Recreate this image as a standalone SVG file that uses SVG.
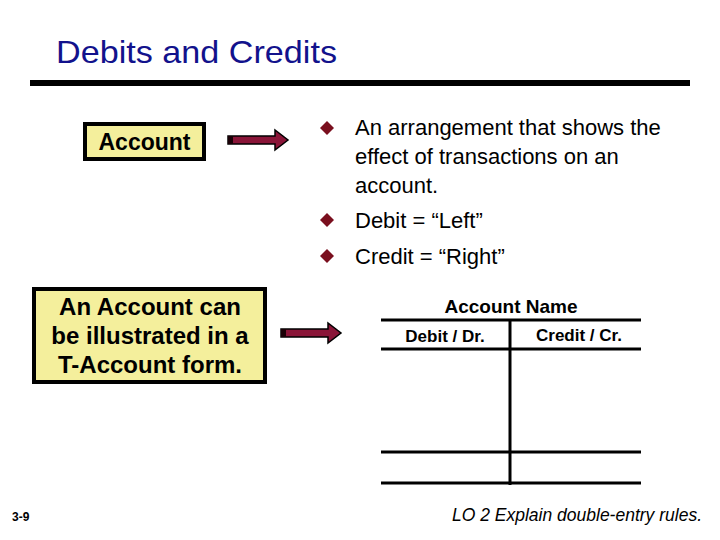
<svg xmlns="http://www.w3.org/2000/svg" width="720" height="540" viewBox="0 0 720 540">
<defs>
<style>
.t{font-family:"Liberation Sans",Arial,sans-serif}
.b{font-weight:bold}
.body{font-size:22px;fill:#000}
.box{fill:#f4ef9c;stroke:#000;stroke-width:4}
.arrow{fill:#8a1538;stroke:#000;stroke-width:1.5;stroke-linejoin:miter}
.tl{stroke:#000;stroke-width:3}
.dia{fill:#7a0f1e}
</style>
<symbol id="arr" viewBox="0 0 62 22" overflow="visible">
<polygon class="arrow" points="1,7 48,7 48,1 61,11 48,21 48,15 1,15"/>
<rect x="1" y="7" width="5" height="8" fill="#1a0006"/>
</symbol>
<polygon id="dm" class="dia" points="0,-7 7,0 0,7 -7,0"/>
</defs>
<rect width="720" height="540" fill="#fff"/>
<g id="title">
<text class="t" x="56" y="63" font-size="32" fill="#12128c" textLength="281" lengthAdjust="spacingAndGlyphs">Debits and Credits</text>
<rect x="30" y="80" width="660" height="6" fill="#000"/>
</g>
<g id="account">
<rect class="box" x="85" y="124" width="119" height="35"/>
<text class="t b" x="144.5" y="150" font-size="23" text-anchor="middle">Account</text>
</g>
<g id="tform-note">
<rect class="box" x="34" y="289" width="231" height="93"/>
<text class="t b" font-size="24" text-anchor="middle"><tspan x="150" y="315">An Account can</tspan><tspan x="150" y="344">be illustrated in a</tspan><tspan x="150" y="373">T-Account form.</tspan></text>
</g>
<g id="bullets">
<use href="#dm" x="327" y="128"/>
<use href="#dm" x="327" y="220"/>
<use href="#dm" x="327" y="256"/>
<text class="t body"><tspan x="355" y="135">An arrangement that shows the</tspan><tspan x="355" y="164">effect of transactions on an</tspan><tspan x="355" y="193">account.</tspan><tspan x="355" y="228">Debit = “Left”</tspan><tspan x="355" y="264">Credit = “Right”</tspan></text>
</g>
<g id="t-account">
<text class="t b" x="511" y="313" font-size="19" text-anchor="middle">Account Name</text>
<text class="t b" x="445" y="342" font-size="17" text-anchor="middle">Debit / Dr.</text>
<text class="t b" x="579" y="341" font-size="17" text-anchor="middle">Credit / Cr.</text>
<line class="tl" x1="381" y1="320" x2="641" y2="320"/>
<line class="tl" x1="381" y1="349" x2="641" y2="349"/>
<line class="tl" x1="381" y1="452" x2="641" y2="452"/>
<line class="tl" x1="381" y1="483" x2="641" y2="483"/>
<line class="tl" x1="510" y1="320" x2="510" y2="485"/>
</g>
<g id="connectors">
<use href="#arr" x="227" y="129" width="62" height="22"/>
<use href="#arr" x="280" y="322" width="62" height="22"/>
</g>
<g id="footer">
<text class="t b" x="12" y="521" font-size="12">3-9</text>
<text class="t" x="702" y="521" font-size="17.5" font-style="italic" text-anchor="end">LO 2  Explain double-entry rules.</text>
</g>
</svg>
